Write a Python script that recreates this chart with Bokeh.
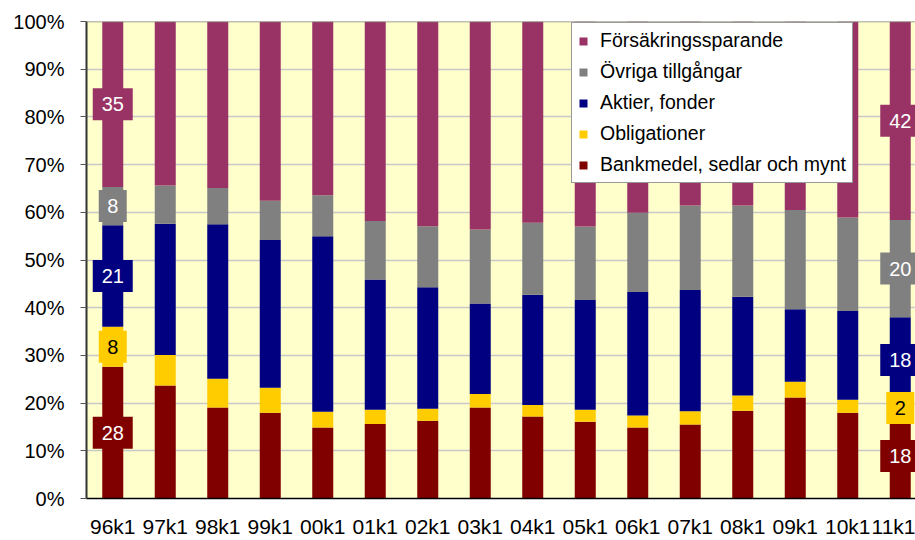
from bokeh.plotting import figure
from bokeh.models import (Range1d, FixedTicker, PrintfTickFormatter, Legend, LegendItem,
                          Span, ColumnDataSource)
from bokeh.core.properties import value
from bokeh.embed import file_html
from bokeh.resources import INLINE

periods = ["96k1", "97k1", "98k1", "99k1", "00k1", "01k1", "02k1", "03k1",
           "04k1", "05k1", "06k1", "07k1", "08k1", "09k1", "10k1", "11k1"]
bank = [27.6, 23.7, 19.1, 18.0, 14.9, 15.6, 16.3, 19.1, 17.2, 16.1, 14.9, 15.5, 18.4, 21.2, 18.0, 17.8]
obligationer = [8.4, 6.4, 6.0, 5.2, 3.3, 3.0, 2.5, 2.8, 2.4, 2.5, 2.5, 2.8, 3.2, 3.3, 2.7, 2.3]
aktier = [21.3, 27.5, 32.4, 31.0, 36.8, 27.3, 25.5, 19.0, 23.1, 23.0, 25.9, 25.4, 20.7, 15.2, 18.6, 17.9]
ovriga = [8.0, 8.0, 7.6, 8.2, 8.6, 12.3, 12.8, 15.5, 15.1, 15.4, 16.6, 17.7, 19.1, 20.8, 19.6, 20.4]
forsakring = [34.7, 34.4, 34.9, 37.6, 36.4, 41.8, 42.9, 43.6, 42.2, 43.0, 40.1, 38.6, 38.6, 39.5, 41.1, 41.6]

series_keys = ["bank", "obligationer", "aktier", "ovriga", "forsakring"]
series_names = ["Bankmedel, sedlar och mynt", "Obligationer", "Aktier, fonder",
                "Övriga tillgångar", "Försäkringssparande"]
colors = ["#800000", "#FFCC00", "#000080", "#808080", "#993366"]
label_text_colors = ["white", "black", "white", "white", "white"]
y_ticks = [0, 10, 20, 30, 40, 50, 60, 70, 80, 90, 100]
labelled_periods = ["96k1", "11k1"]

FONT = "Liberation Sans"
x = list(range(len(periods)))
data = dict(x=x, bank=bank, obligationer=obligationer, aktier=aktier,
            ovriga=ovriga, forsakring=forsakring)
src = ColumnDataSource(data)

W, H = 915, 540
LEFT, TOP, BOTTOM = 86, 21, 40
band_px = 52.5
frame_w = W - LEFT
p = figure(width=W, height=H, output_backend="svg", toolbar_location=None,
           x_range=Range1d(-0.5, -0.5 + frame_w / band_px), y_range=Range1d(0, 100),
           min_border_left=LEFT, min_border_right=0, min_border_top=TOP, min_border_bottom=BOTTOM,
           background_fill_color="#FFFFCC", border_fill_color="white",
           outline_line_color=None)

renderers = p.vbar_stack(series_keys, x="x", width=0.4, color=colors, source=src,
                         line_color=None)

# grid & axes
p.xgrid.grid_line_color = None
p.ygrid.grid_line_color = "#C8C8C8"
p.ygrid.grid_line_width = 1.5
p.ygrid.ticker = FixedTicker(ticks=y_ticks)
p.add_layout(Span(location=100, dimension="width", line_color="#808080", line_width=1.5))

p.yaxis.ticker = FixedTicker(ticks=y_ticks)
p.yaxis.formatter = PrintfTickFormatter(format="%d%%")
p.yaxis.major_tick_out = 6
p.yaxis.major_tick_in = 0
p.yaxis.major_tick_line_color = "#555555"
p.yaxis.minor_tick_line_color = None
p.yaxis.axis_line_color = "#333333"
p.yaxis.axis_line_width = 2
p.yaxis.major_label_standoff = 16
p.yaxis.major_label_text_font_size = "20px"

p.xaxis.ticker = FixedTicker(ticks=x)
p.xaxis.major_label_overrides = {i: name for i, name in zip(x, periods)}
p.xaxis.major_tick_line_color = None
p.xaxis.minor_tick_line_color = None
p.xaxis.major_tick_out = 0
p.xaxis.major_tick_in = 0
p.xaxis.axis_line_color = "black"
p.xaxis.axis_line_width = 1.5
p.xaxis.major_label_standoff = 16
p.xaxis.major_label_text_font_size = "21px"

for ax in (p.xaxis, p.yaxis):
    ax.major_label_text_font = FONT
    ax.major_label_text_color = "black"

# data labels for selected periods
lx, ly, lt, lw, lc, ltc = [], [], [], [], [], []
series_vals = [bank, obligationer, aktier, ovriga, forsakring]
for per in labelled_periods:
    i = periods.index(per)
    base = 0.0
    for k, vals in enumerate(series_vals):
        v = vals[i]
        txt = str(int(round(v)))
        lx.append(i)
        ly.append(base + v / 2)
        lt.append(txt)
        lw.append(12 * len(txt) + 16)
        lc.append(colors[k])
        ltc.append(label_text_colors[k])
        base += v
lab_src = ColumnDataSource(dict(x=lx, y=ly, text=lt, w=lw, color=lc, tcolor=ltc))
p.rect(x="x", y="y", width="w", height=32, width_units="screen", height_units="screen",
       fill_color="color", line_color=None, source=lab_src)
p.text(x="x", y="y", text="text", text_color="tcolor", text_align="center",
       text_baseline="middle", text_font=value(FONT), text_font_size=value("20px"),
       source=lab_src)

# legend
items = [LegendItem(label=series_names[k], renderers=[renderers[k]])
         for k in reversed(range(len(series_keys)))]
legend = Legend(items=items, location=(485, 315), orientation="vertical",
                label_text_font=FONT, label_text_font_size="19.5px", label_text_color="black",
                glyph_width=10, glyph_height=10, label_height=20, label_standoff=12,
                spacing=8, padding=6, margin=0,
                border_line_color="#333333", border_line_width=1,
                background_fill_color="white", background_fill_alpha=1.0)
p.add_layout(legend, "center")

open("out.html", "w").write(file_html(p, INLINE))
